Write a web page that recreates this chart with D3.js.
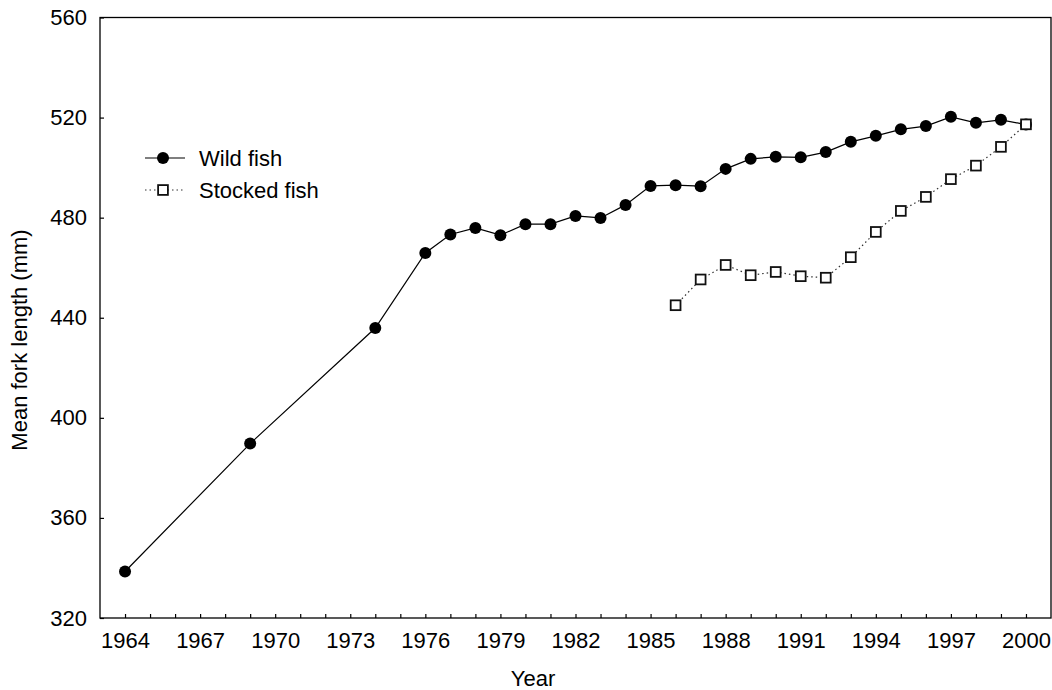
<!DOCTYPE html>
<html>
<head>
<meta charset="utf-8">
<script src="https://cdn.jsdelivr.net/npm/d3@7"></script>
<style>
  html, body { margin: 0; padding: 0; background: #fff; }
  svg { display: block; font-family: "Liberation Sans", Arial, sans-serif; }
</style>
</head>
<body>
<svg id="chart" width="1052" height="690"></svg>
<script>
// Mean fork length by year
const wildYears = [1964, 1969, 1974, 1976, 1977, 1978, 1979, 1980, 1981, 1982, 1983, 1984,
  1985, 1986, 1987, 1988, 1989, 1990, 1991, 1992, 1993, 1994, 1995, 1996, 1997, 1998, 1999, 2000];
const wildLength = [338.6, 389.7, 435.9, 465.9, 473.3, 475.9, 473.0, 477.4, 477.4, 480.7, 479.9, 485.1,
  492.7, 493.0, 492.6, 499.5, 503.5, 504.3, 504.1, 506.2, 510.3, 512.7, 515.3, 516.6, 520.3, 517.9, 519.1, 517.2];

const stockedYears = [1986, 1987, 1988, 1989, 1990, 1991, 1992, 1993, 1994, 1995, 1996, 1997, 1998, 1999, 2000];
const stockedLength = [445.0, 455.3, 461.1, 457.0, 458.3, 456.6, 456.0, 464.2, 474.3, 482.7, 488.3, 495.4, 500.8, 508.3, 517.3];

const yTicks = [320, 360, 400, 440, 480, 520, 560];
const xLabelYears = [1964, 1967, 1970, 1973, 1976, 1979, 1982, 1985, 1988, 1991, 1994, 1997, 2000];
const seriesNames = ["Wild fish", "Stocked fish"];

(function draw() {
  const svg = d3.select("#chart");
  const pLeft = 100, pRight = 1051, pTop = 17.5, pBottom = 618;

  const x = d3.scaleLinear().domain([1963, 2001]).range([pLeft, pRight]);
  const y = d3.scaleLinear().domain([320, 560]).range([pBottom, pTop]);

  const fontSize = 22;
  const fontFamily = "Liberation Sans, Arial, sans-serif";

  // frame
  svg.append("rect")
    .attr("x", pLeft).attr("y", pTop)
    .attr("width", pRight - pLeft).attr("height", pBottom - pTop)
    .attr("fill", "none").attr("stroke", "#000").attr("stroke-width", 1.3);

  // y axis (inward ticks)
  const yAxis = d3.axisLeft(y).tickValues(yTicks).tickSizeInner(-4).tickSizeOuter(0).tickPadding(13);
  const gy = svg.append("g").attr("transform", `translate(${pLeft},0)`).call(yAxis);
  gy.select(".domain").remove();
  gy.selectAll("line").attr("stroke", "#000").attr("stroke-width", 1.2);
  gy.selectAll("text").attr("font-size", fontSize).attr("fill", "#000").attr("font-family", fontFamily);

  // x axis: tick every year, labels every third year
  const allYears = d3.range(1964, 2001);
  const xAxis = d3.axisBottom(x).tickValues(allYears).tickSizeInner(-4).tickSizeOuter(0).tickPadding(14)
    .tickFormat(d => xLabelYears.includes(d) ? String(d) : "");
  const gx = svg.append("g").attr("transform", `translate(0,${pBottom})`).call(xAxis);
  gx.select(".domain").remove();
  gx.selectAll("line").attr("stroke", "#000").attr("stroke-width", 1.2);
  gx.selectAll("text").attr("font-size", fontSize).attr("fill", "#000").attr("font-family", fontFamily);

  // axis titles
  svg.append("text").attr("x", 533).attr("y", 686)
    .attr("text-anchor", "middle").attr("font-size", fontSize).text("Year");
  svg.append("text")
    .attr("transform", "translate(27,340) rotate(-90)")
    .attr("text-anchor", "middle").attr("font-size", fontSize).text("Mean fork length (mm)");

  const wild = wildYears.map((yr, i) => ({ yr, v: wildLength[i] }));
  const stocked = stockedYears.map((yr, i) => ({ yr, v: stockedLength[i] }));
  const line = d3.line().x(d => x(d.yr)).y(d => y(d.v));

  // wild fish: solid line, filled circles
  svg.append("path").datum(wild).attr("d", line)
    .attr("fill", "none").attr("stroke", "#000").attr("stroke-width", 1.2);
  svg.append("g").selectAll("circle").data(wild).join("circle")
    .attr("cx", d => x(d.yr)).attr("cy", d => y(d.v)).attr("r", 6).attr("fill", "#000");

  // stocked fish: dotted line, open squares
  svg.append("path").datum(stocked).attr("d", line)
    .attr("fill", "none").attr("stroke", "#333").attr("stroke-width", 1.2)
    .attr("stroke-dasharray", "1.5,3");
  const sq = 9.8;
  svg.append("g").selectAll("rect").data(stocked).join("rect")
    .attr("x", d => x(d.yr) - sq / 2).attr("y", d => y(d.v) - sq / 2)
    .attr("width", sq).attr("height", sq)
    .attr("fill", "#fff").attr("stroke", "#111").attr("stroke-width", 1.8);

  // legend
  const lg = svg.append("g");
  const lx0 = 145, lx1 = 185, lcx = 163, ltx = 199;
  const ly = [158, 190];
  lg.append("line").attr("x1", lx0).attr("x2", lx1).attr("y1", ly[0]).attr("y2", ly[0])
    .attr("stroke", "#000").attr("stroke-width", 1.2);
  lg.append("circle").attr("cx", lcx).attr("cy", ly[0]).attr("r", 6).attr("fill", "#000");
  lg.append("line").attr("x1", lx0).attr("x2", lx1).attr("y1", ly[1]).attr("y2", ly[1])
    .attr("stroke", "#333").attr("stroke-width", 1.2).attr("stroke-dasharray", "1.5,3");
  lg.append("rect").attr("x", lcx - sq / 2).attr("y", ly[1] - sq / 2).attr("width", sq).attr("height", sq)
    .attr("fill", "#fff").attr("stroke", "#111").attr("stroke-width", 1.8);
  seriesNames.forEach((name, i) => {
    lg.append("text").attr("x", ltx).attr("y", ly[i]).attr("dy", "0.35em")
      .attr("font-size", fontSize).attr("font-family", fontFamily).text(name);
  });
})();
</script>
</body>
</html>
